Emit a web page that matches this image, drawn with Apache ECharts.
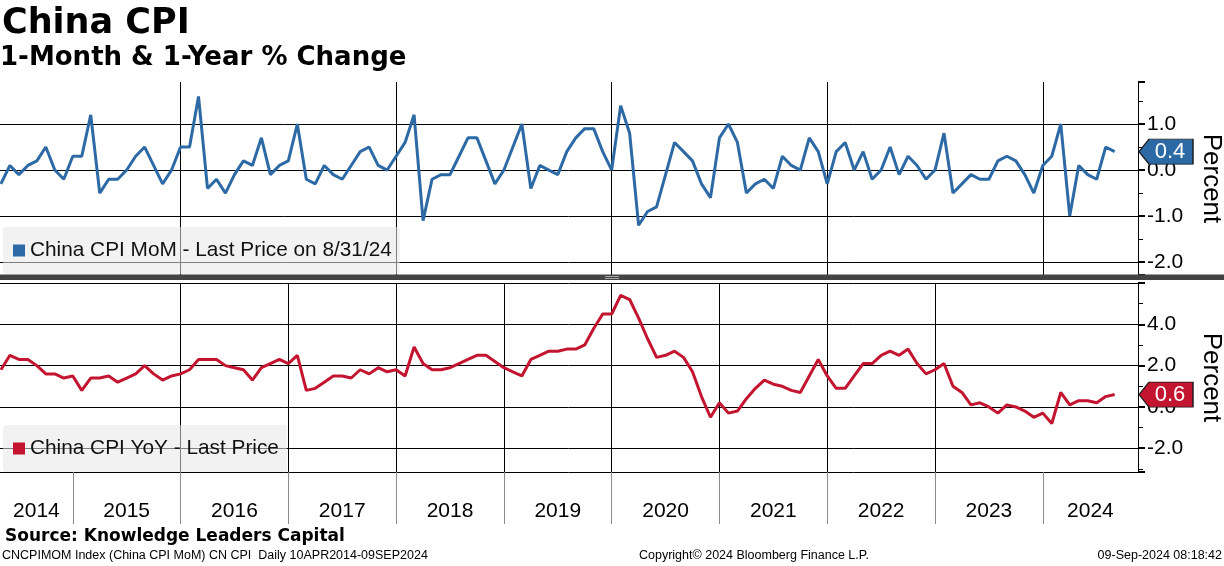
<!DOCTYPE html>
<html><head><meta charset="utf-8">
<script src="https://cdn.jsdelivr.net/npm/echarts@6/dist/echarts.min.js"></script>
<style>html,body{margin:0;padding:0;background:#fff}#c{width:1224px;height:566px}</style>
</head><body><div id="c"></div>
<script>
// ---- data (monthly, month-end observations, Apr 2014 .. Aug 2024) ----
const startYear = 2014;
const startMonth = 4;
const momName = 'China CPI MoM';
const yoyName = 'China CPI YoY';
const lastDateText = '8/31/24';
const mom = [
  -0.3, 0.1, -0.1, 0.1, 0.2, 0.5, 0.0, -0.2, 0.3,
  0.3, 1.2, -0.5, -0.2, -0.2, 0.0, 0.3, 0.5, 0.1, -0.3, 0.0, 0.5,
  0.5, 1.6, -0.4, -0.2, -0.5, -0.1, 0.2, 0.1, 0.7, -0.1, 0.1, 0.2,
  1.0, -0.2, -0.3, 0.1, -0.1, -0.2, 0.1, 0.4, 0.5, 0.1, 0.0, 0.3,
  0.6, 1.2, -1.1, -0.2, -0.1, -0.1, 0.3, 0.7, 0.7, 0.2, -0.3, 0.0,
  0.5, 1.0, -0.4, 0.1, 0.0, -0.1, 0.4, 0.7, 0.9, 0.9, 0.4, 0.0,
  1.4, 0.8, -1.2, -0.9, -0.8, -0.1, 0.6, 0.4, 0.2, -0.3, -0.6, 0.7,
  1.0, 0.6, -0.5, -0.3, -0.2, -0.4, 0.3, 0.1, 0.0, 0.7, 0.4, -0.3,
  0.4, 0.6, 0.0, 0.4, -0.2, 0.0, 0.5, -0.1, 0.3, 0.1, -0.2, 0.0,
  0.8, -0.5, -0.3, -0.1, -0.2, -0.2, 0.2, 0.3, 0.2, -0.1, -0.5, 0.1,
  0.3, 1.0, -1.0, 0.1, -0.1, -0.2, 0.5, 0.4
];
const yoy = [
  1.8, 2.5, 2.3, 2.3, 2.0, 1.6, 1.6, 1.4, 1.5,
  0.8, 1.4, 1.4, 1.5, 1.2, 1.4, 1.6, 2.0, 1.6, 1.3, 1.5, 1.6,
  1.8, 2.3, 2.3, 2.3, 2.0, 1.9, 1.8, 1.3, 1.9, 2.1, 2.3, 2.1,
  2.5, 0.8, 0.9, 1.2, 1.5, 1.5, 1.4, 1.8, 1.6, 1.9, 1.7, 1.8,
  1.5, 2.9, 2.1, 1.8, 1.8, 1.9, 2.1, 2.3, 2.5, 2.5, 2.2, 1.9,
  1.7, 1.5, 2.3, 2.5, 2.7, 2.7, 2.8, 2.8, 3.0, 3.8, 4.5, 4.5,
  5.4, 5.2, 4.3, 3.3, 2.4, 2.5, 2.7, 2.4, 1.7, 0.5, -0.5, 0.2,
  -0.3, -0.2, 0.4, 0.9, 1.3, 1.1, 1.0, 0.8, 0.7, 1.5, 2.3, 1.5,
  0.9, 0.9, 1.5, 2.1, 2.1, 2.5, 2.7, 2.5, 2.8, 2.1, 1.6, 1.8,
  2.1, 1.0, 0.7, 0.1, 0.2, 0.0, -0.3, 0.1, 0.0, -0.2, -0.5, -0.3,
  -0.8, 0.7, 0.1, 0.3, 0.3, 0.2, 0.5, 0.6
];
const yearLabels = ['2014','2015','2016','2017','2018','2019','2020','2021','2022','2023','2024'];

// ---- layout / style ----
const BLUE = '#2d6aa5', RED = '#c3152f';
const FONT = '"Liberation Sans", Arial, sans-serif';
const BOLD = '"DejaVu Sans", Verdana, sans-serif';
const plotLeft = -35, plotRight = 1138, W = 1224;
const xMin = 0, xMax = 130.6;          // months since Jan 2014
const pxPerMonth = (plotRight - plotLeft) / (xMax - xMin);
const visStart = -plotLeft / pxPerMonth;
const topMin = -2.28, topMax = 1.913;
const botMin = -3.15, botMax = 6.0;

// x = month-end index counted from Jan 2014 (built from each month's position in the list)
const momData = mom.map((v, i) => [startMonth + i + (startYear - 2014) * 12, v]);
const yoyData = yoy.map((v, i) => [startMonth + i + (startYear - 2014) * 12, v]);

const yearBounds = yearLabels.slice(1).map((y, k) => (k + 1) * 12);
const labelCenters = yearLabels.map((y, k) => {
  const a = Math.max(k * 12, visStart), b = Math.min((k + 1) * 12, xMax);
  return (a + b) / 2;
});

function yLabel(min, max) {
  return v => (Math.abs(v - Math.round(v)) < 1e-6 && v > min + 1e-6 && v < max - 1e-6) ? v.toFixed(1) : '';
}
const tagPath = 'path://M0,12.5 L10,0 L54,0 L54,25 L10,25 Z';
function tag(data, color) {
  const last = data[data.length - 1][1];
  return {
    silent: true, animation: false,
    symbol: tagPath, symbolSize: [54, 25], symbolKeepAspect: false, symbolOffset: [28, 0],
    itemStyle: { color: color, borderColor: '#1c1c1c', borderWidth: 1 },
    label: { show: true, position: 'inside', offset: [4, 0], color: '#fff', fontFamily: FONT, fontSize: 22,
      formatter: () => last.toFixed(1) },
    data: [{ coord: [xMax, last], value: last }]
  };
}
function yAxisCfg(gi, min, max) {
  return {
    gridIndex: gi, type: 'value', position: 'right', min: min, max: max, splitNumber: 5,
    axisLine: { show: true, onZero: false, lineStyle: { color: '#000', width: 1 } },
    axisTick: { show: true, length: 7, lineStyle: { color: '#000', width: 2 } },
    minorTick: { show: true, splitNumber: 2, length: 5, lineStyle: { color: '#000', width: 1 } },
    axisLabel: { fontFamily: FONT, fontSize: 21, color: '#000', margin: 9, formatter: yLabel(min, max) },
    splitLine: { show: true, showMinLine: false, showMaxLine: gi === 1, lineStyle: { color: '#000', width: 1 } },
    name: 'Percent', nameLocation: 'middle', nameRotate: -90, nameGap: 60,
    nameTextStyle: { fontFamily: FONT, fontSize: 26, color: '#000' }
  };
}
function xAxisCfg(gi) {
  const base = {
    gridIndex: gi, type: 'value', min: xMin, max: xMax, interval: 24,
    axisLine: { show: false, onZero: false }, axisTick: { show: false }, axisLabel: { show: false },
    splitLine: { show: true, showMinLine: false, showMaxLine: false, lineStyle: { color: '#000', width: 1 } }
  };
  if (gi === 1) {
    base.axisLine = { show: true, onZero: false, lineStyle: { color: '#000', width: 1 } };
    base.axisTick = { show: true, customValues: yearBounds, length: 52, lineStyle: { color: '#8a8a8a', width: 1 } };
    base.axisLabel = { show: true, customValues: labelCenters, margin: 28, fontFamily: FONT, fontSize: 21,
      lineHeight: 22, color: '#000', formatter: v => yearLabels[Math.floor(v / 12)] };
  }
  return base;
}
function legendCfg(name, suffix, top) {
  return {
    data: [name], left: 3, top: top, orient: 'horizontal', selectedMode: false,
    icon: 'rect', itemWidth: 12, itemHeight: 12,
    backgroundColor: 'rgba(232,232,232,0.55)', borderRadius: 3, padding: [13, 8, 13, 10],
    textStyle: { fontFamily: FONT, fontSize: 20.8, lineHeight: 21, color: '#111' },
    formatter: n => n + suffix
  };
}
const chart = echarts.init(document.getElementById('c'), null, { renderer: 'canvas' });
chart.setOption({
  animation: false,
  backgroundColor: '#fff',
  grid: [
    { left: plotLeft, right: W - plotRight, top: 82, height: 193, outerBoundsMode: 'none', containLabel: false },
    { left: plotLeft, right: W - plotRight, top: 283, height: 189, outerBoundsMode: 'none', containLabel: false }
  ],
  xAxis: [xAxisCfg(0), xAxisCfg(1)],
  yAxis: [yAxisCfg(0, topMin, topMax), yAxisCfg(1, botMin, botMax)],
  legend: [
    legendCfg(momName, ' - Last Price on ' + lastDateText, 227),
    legendCfg(yoyName, ' - Last Price', 425)
  ],
  series: [
    { type: 'line', name: momName, xAxisIndex: 0, yAxisIndex: 0, data: momData, showSymbol: false, symbol: 'none',
      lineStyle: { color: BLUE, width: 3 }, itemStyle: { color: BLUE }, markPoint: tag(momData, BLUE) },
    { type: 'line', name: yoyName, xAxisIndex: 1, yAxisIndex: 1, data: yoyData, showSymbol: false, symbol: 'none',
      lineStyle: { color: RED, width: 3 }, itemStyle: { color: RED }, markPoint: tag(yoyData, RED) }
  ],
  graphic: [
    { type: 'rect', shape: { x: 0, y: 274.5, width: W, height: 5.5 }, style: { fill: '#434343' }, z: 100 },
    { type: 'rect', shape: { x: 605, y: 276, width: 14, height: 1 }, style: { fill: '#a8a8a8' }, z: 101 },
    { type: 'rect', shape: { x: 605, y: 278, width: 14, height: 1 }, style: { fill: '#a8a8a8' }, z: 101 },
    { type: 'text', x: 2, y: 23.5, style: { text: 'China CPI', font: 'bold 35px ' + BOLD, fill: '#000', verticalAlign: 'middle' } },
    { type: 'text', x: 0, y: 58, style: { text: '1-Month & 1-Year % Change', font: 'bold 26px ' + BOLD, fill: '#000', verticalAlign: 'middle' } },
    { type: 'text', x: 5, y: 537, style: { text: 'Source: Knowledge Leaders Capital', font: 'bold 17px ' + BOLD, fill: '#000', verticalAlign: 'middle' } },
    { type: 'text', x: 2, y: 556, style: { text: 'CNCPIMOM Index (China CPI MoM) CN CPI  Daily 10APR2014-09SEP2024', font: '12.5px ' + FONT, fill: '#000', verticalAlign: 'middle' } },
    { type: 'text', x: 639, y: 556, style: { text: 'Copyright\u00A9 2024 Bloomberg Finance L.P.', font: '12.5px ' + FONT, fill: '#000', verticalAlign: 'middle' } },
    { type: 'text', x: 1222, y: 556, style: { text: '09-Sep-2024 08:18:42', font: '12.5px ' + FONT, fill: '#000', align: 'right', verticalAlign: 'middle' } }
  ]
});
</script></body></html>
